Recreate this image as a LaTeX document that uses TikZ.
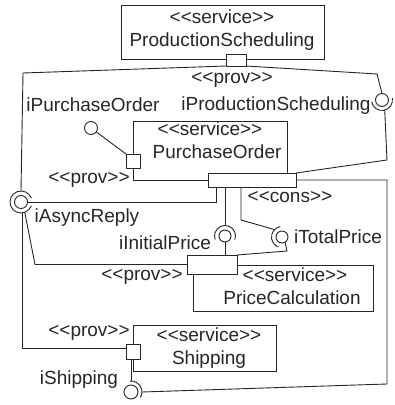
\documentclass[tikz,border=0pt]{standalone}
\usepackage{fontspec}
\newfontfamily\umlfont{Liberation Sans}
\newcommand{\Lchev}{<\kern0pt<}
\newcommand{\Rchev}{>\kern0pt>}
\begin{document}
\begin{tikzpicture}[x=1pt,y=-1pt,
  box/.style={draw=black!85, line width=0.9pt, fill=white, inner sep=0, outer sep=0},
  ball/.style={circle, draw=black!85, line width=0.9pt, fill=white, inner sep=0, outer sep=0, minimum size=13pt},
  sock/.style={circle, inner sep=0, outer sep=0, minimum size=21pt},
  lbl/.style={inner sep=0, outer sep=0, text=black!85, font=\umlfont\fontsize{19}{23}\selectfont},
  conn/.style={draw=black!85, line width=0.9pt}]
\useasboundingbox (0,0) rectangle (395,405);
% component boxes
\node[box, minimum width=203pt, minimum height=54pt] (PS) at (222.5,32) {};
\node[box, minimum width=20pt, minimum height=12pt] (PSp) at (236,60) {};
\node[box, minimum width=154pt, minimum height=59pt] (PO) at (210,150.5) {};
\node[box, minimum width=14pt, minimum height=14pt] (POl) at (133,161) {};
\node[box, minimum width=88pt, minimum height=14pt] (POp) at (252,180) {};
\node[box, minimum width=180pt, minimum height=46pt] (PC) at (283,288) {};
\node[box, minimum width=50pt, minimum height=19pt] (PCp) at (212,264.5) {};
\node[box, minimum width=143pt, minimum height=46pt] (SH) at (204.5,348) {};
\node[box, minimum width=14pt, minimum height=15pt] (SHp) at (133,351.5) {};
% box texts
\node[lbl, anchor=base] (PSt1) at (222,23) {\Lchev service\Rchev};
\node[lbl, anchor=base] (PSt2) at (222,46) {ProductionScheduling};
\node[lbl, anchor=base] (POt1) at (210,135) {\Lchev service\Rchev};
\node[lbl, anchor=base] (POt2) at (217,158) {PurchaseOrder};
\node[lbl, anchor=base] (PCt1) at (295,281) {\Lchev service\Rchev};
\node[lbl, anchor=base] (PCt2) at (292,304) {PriceCalculation};
\node[lbl, anchor=base] (SHt1) at (209,341) {\Lchev service\Rchev};
\node[lbl, anchor=base] (SHt2) at (209,364) {Shipping};
% balls and sockets
\node[ball] (iPOb) at (91,128) {};
\node[sock] (iPSs) at (382,100) {};
\node[ball] (iPSb) at (382,100) {};
\node[sock, minimum size=22pt] (ARs) at (21,202) {};
\node[ball] (ARb) at (21,202) {};
\node[sock] (IPs) at (225,236) {};
\node[ball, minimum size=12pt] (IPb) at (225,236) {};
\node[sock] (TPs) at (282,237) {};
\node[ball, minimum size=12pt] (TPb) at (282,237) {};
\node[sock, minimum size=22pt] (SHs) at (131,392) {};
\node[ball, minimum size=14pt] (SHb) at (131,392) {};
\draw[conn] (iPSs.190) arc[start angle=190, end angle=370, radius=10.5pt];
\draw[conn] (ARs.20) arc[start angle=20, end angle=340, radius=11pt];
\draw[conn] (IPs.-20) arc[start angle=-20, end angle=200, radius=10.5pt];
\draw[conn] (TPs.100) arc[start angle=100, end angle=250, radius=10.5pt];
\draw[conn] (SHs.-30) arc[start angle=-30, end angle=95, radius=11pt];
% connectors
\draw[conn] (PSp.south west) -- (23,73) -- (ARs.north);
\draw[conn] (PSp.south east) -- (377,74) -- (iPSb.north);
\draw[conn] (iPSs.-75) -- (387,160) -- (POp.north east);
\draw[conn] (POp.east) -- (387,180) -- (387,384) -- (SHs.east);
\draw[conn] ([xshift=8pt]POp.south west) |- (ARb.east);
\draw[conn] ([xshift=17pt]POp.south west) -- (IPs.north);
\draw[conn] ([xshift=33pt]POp.south west) -- (241,220) -- (TPs.north west);
\draw[conn] (IPb.south) -- (IPb.south |- PCp.north);
\draw[conn] (TPb.-60) -- (287,251) -- (PCp.north east);
\draw[conn] (PCp.west) -- (35,264.5) -- (ARs.-70);
\draw[conn] (ARs.-80) |- ([yshift=3pt]SHp.west);
\draw[conn] ([xshift=-2pt]SHp.south) -- (SHs.north);
\draw[conn] (iPOb) -- (POl.north west);
% labels
\node[lbl] (L1) at (232,80) {\Lchev prov\Rchev};
\node[lbl] (L2) at (93,105) {iPurchaseOrder};
\node[lbl] (L3) at (276,106) {iProductionScheduling};
\node[lbl] (L4) at (89,180) {\Lchev prov\Rchev};
\node[lbl] (L5) at (290,197) {\Lchev cons\Rchev};
\node[lbl] (L6) at (87,218) {iAsyncReply};
\node[lbl] (L7) at (165,243) {iInitialPrice};
\node[lbl] (L8) at (338,237) {iTotalPrice};
\node[lbl] (L9) at (142,277) {\Lchev prov\Rchev};
\node[lbl] (L10) at (89,333) {\Lchev prov\Rchev};
\node[lbl] (L11) at (79,380) {iShipping};
\end{tikzpicture}
\end{document}
